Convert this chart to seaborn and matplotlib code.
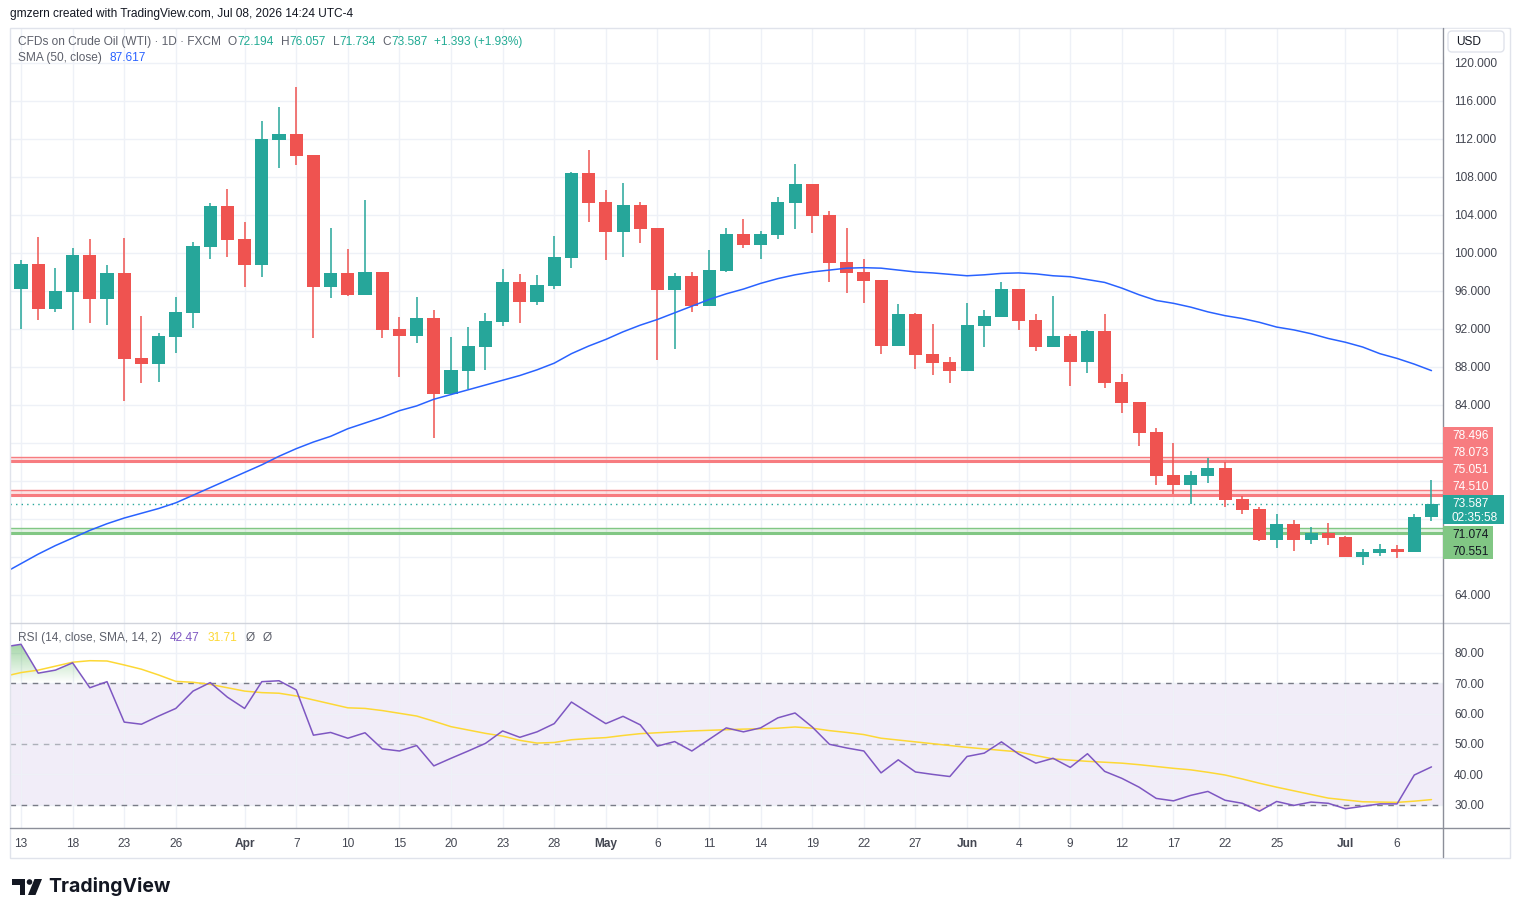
import numpy as np
import pandas as pd
import seaborn as sns
import matplotlib.pyplot as plt
from matplotlib.patches import Rectangle, FancyBboxPatch, Polygon, Circle, PathPatch
from matplotlib.path import Path
from matplotlib.colors import to_rgb
from matplotlib.ticker import FuncFormatter

sns.set_theme(style='white')
plt.rcParams['font.family'] = ['Liberation Sans', 'DejaVu Sans']

W, H = 1519, 917

# --- daily bars, Mar 13 .. Jul 08 (83 sessions) ---
opens = [96.2, 98.84, 94.1, 95.9, 99.8, 95.16, 97.89, 88.95, 88.35, 91.2,
         93.72, 100.67, 104.95, 101.47, 98.77, 111.9, 112.53, 110.3, 96.42, 97.9,
         95.58, 98.0, 92.0, 91.26, 93.16, 85.19, 87.58, 90.1, 92.74, 96.95,
         94.84, 96.5, 99.47, 108.42, 105.37, 102.2, 105.05, 102.63, 96.1, 97.58,
         94.42, 98.1, 102.0, 100.84, 101.9, 105.26, 107.26, 104.0, 99.05, 98.0,
         97.16, 90.2, 93.58, 89.37, 88.5, 87.6, 92.3, 93.26, 96.2, 92.95,
         90.1, 91.26, 88.5, 91.79, 86.4, 84.3, 81.16, 76.6, 75.6, 76.5,
         77.37, 74.1, 73.05, 69.8, 71.47, 69.8, 70.5, 70.1, 68.0, 68.4,
         68.84, 68.5, 72.194]
highs = [99.26, 101.68, 98.42, 100.53, 101.47, 98.74, 101.58, 93.37, 91.58, 95.37,
         101.16, 105.26, 106.74, 103.26, 113.9, 115.37, 117.5, 110.3, 102.6, 100.4,
         105.58, 98.0, 93.26, 95.37, 94.0, 91.16, 92.2, 93.68, 98.3, 97.8,
         97.7, 101.8, 108.5, 110.84, 106.63, 107.37, 105.37, 102.63, 97.9, 98.0,
         100.3, 102.63, 103.58, 102.3, 105.9, 109.37, 107.26, 104.42, 102.63, 99.4,
         97.16, 94.63, 93.7, 92.53, 89.05, 94.74, 94.0, 96.95, 96.2, 93.58,
         95.47, 91.47, 91.9, 93.58, 87.26, 84.3, 81.6, 80.0, 77.05, 78.4,
         78.0, 74.4, 73.26, 72.5, 71.9, 71.16, 71.6, 70.2, 68.84, 69.37,
         69.26, 72.5, 76.057]
lows = [92.0, 92.98, 93.79, 91.93, 92.67, 92.46, 84.45, 86.35, 86.45, 89.5,
        92.14, 99.4, 99.6, 96.45, 97.5, 108.9, 109.3, 91.1, 95.26, 95.5,
        95.58, 91.1, 86.98, 90.56, 80.56, 85.19, 85.68, 87.7, 92.3, 92.6,
        94.5, 96.2, 98.42, 103.26, 99.26, 99.58, 101.05, 88.7, 89.9, 93.79,
        94.42, 98.0, 100.5, 99.4, 101.5, 102.5, 102.1, 96.95, 95.8, 94.7,
        89.37, 90.2, 87.8, 87.2, 86.35, 87.6, 90.1, 93.26, 91.9, 89.7,
        90.1, 86.0, 87.37, 85.8, 83.16, 79.7, 75.6, 74.6, 73.6, 75.8,
        73.26, 72.5, 69.7, 68.95, 68.6, 69.4, 69.26, 68.0, 67.16, 68.1,
        67.9, 68.5, 71.734]
closes = [98.84, 94.1, 96.0, 99.79, 95.16, 97.89, 88.88, 88.35, 91.26, 93.79,
          100.74, 104.95, 101.4, 98.77, 112.0, 112.53, 110.2, 96.42, 97.9, 95.58,
          98.0, 91.93, 91.26, 93.16, 85.19, 87.65, 90.2, 92.84, 96.95, 94.84,
          96.6, 99.58, 108.42, 105.26, 102.2, 105.05, 102.53, 96.1, 97.58, 94.42,
          98.2, 102.0, 100.84, 102.0, 105.37, 107.26, 103.9, 98.95, 97.9, 97.05,
          90.2, 93.58, 89.26, 88.45, 87.6, 92.42, 93.37, 96.2, 92.84, 90.1,
          91.26, 88.5, 91.79, 86.3, 84.2, 81.05, 76.5, 75.6, 76.6, 77.37,
          74.0, 72.95, 69.8, 71.47, 69.8, 70.5, 70.0, 68.0, 68.5, 68.84,
          68.5, 72.2, 73.587]

# indicators start one bar earlier (the bar just left of the view)
sma50 = [66.3, 67.3, 68.3, 69.2, 70.0, 70.8, 71.5, 72.1, 72.6, 73.1, 73.7,
         74.5, 75.3, 76.1, 76.9, 77.7, 78.6, 79.4, 80.1, 80.7, 81.5,
         82.1, 82.7, 83.4, 83.9, 84.6, 85.1, 85.6, 86.1, 86.6, 87.1,
         87.7, 88.4, 89.4, 90.2, 90.9, 91.7, 92.4, 93.0, 93.7, 94.4,
         95.1, 95.7, 96.2, 96.8, 97.3, 97.7, 98.0, 98.2, 98.4, 98.45,
         98.4, 98.2, 98.0, 97.9, 97.75, 97.6, 97.7, 97.85, 97.9, 97.8,
         97.6, 97.5, 97.2, 96.9, 96.3, 95.6, 95.0, 94.7, 94.3, 93.8,
         93.4, 93.1, 92.7, 92.2, 91.9, 91.5, 91.0, 90.6, 90.1, 89.4,
         88.9, 88.3, 87.617]
rsi = [81.9, 82.8, 73.3, 74.3, 76.7, 68.5, 70.5, 57.2, 56.5, 59.2, 61.7,
       67.4, 70.2, 65.4, 61.7, 70.5, 70.8, 67.8, 52.9, 53.8, 51.9,
       53.7, 48.4, 47.7, 49.5, 42.8, 45.3, 47.7, 50.2, 54.3, 52.2,
       54.0, 56.7, 63.8, 60.2, 56.7, 59.1, 56.3, 49.3, 50.8, 47.7,
       51.5, 55.3, 54.0, 55.3, 58.6, 60.2, 55.6, 49.9, 48.7, 47.7,
       40.5, 44.8, 40.8, 40.0, 39.3, 45.9, 47.0, 50.7, 46.7, 43.7,
       45.3, 42.3, 46.8, 41.0, 38.7, 35.8, 32.1, 31.3, 33.1, 34.4,
       31.5, 30.5, 27.9, 31.1, 29.8, 30.9, 30.5, 28.7, 29.5, 30.3,
       30.3, 39.8, 42.47]
rsi_ma = [72.2, 73.5, 74.3, 75.6, 76.9, 77.4, 77.3, 76.0, 74.6, 72.7, 70.6,
          70.3, 69.6, 68.5, 67.4, 66.9, 66.7, 65.8, 64.5, 63.2, 61.9,
          61.7, 61.0, 60.1, 59.2, 57.5, 55.7, 54.6, 53.5, 52.6, 51.2,
          50.3, 50.5, 51.4, 51.8, 52.1, 52.8, 53.4, 53.7, 54.0, 54.3,
          54.5, 54.7, 54.9, 55.0, 55.2, 55.6, 55.2, 54.4, 53.8, 53.1,
          51.9, 51.3, 50.7, 50.1, 49.5, 48.9, 48.4, 47.9, 47.4, 46.2,
          45.1, 44.7, 44.3, 44.0, 43.7, 43.2, 42.6, 42.0, 41.5, 40.7,
          39.8, 38.5, 37.1, 35.8, 34.6, 33.4, 32.2, 31.6, 31.0, 30.9,
          30.8, 31.2, 31.71]

tick_pos = [0, 3, 6, 9, 13, 16, 19, 22, 25, 28, 31, 34, 37, 40, 43, 46, 49,
            52, 55, 58, 61, 64, 67, 70, 73, 77, 80]
tick_lbl = ['13', '18', '23', '26', 'Apr', '7', '10', '15', '20', '23', '28',
            'May', '6', '11', '14', '19', '22', '27', 'Jun', '4', '9', '12',
            '17', '22', '25', 'Jul', '6']
months = {'Apr', 'May', 'Jun', 'Jul'}

red_levels = [(78.496, 78.073), (75.051, 74.510)]
green_levels = [(71.074, 70.551)]
last_price = 73.587
countdown = '02:35:58'

UP, DOWN = '#26A69A', '#EF5350'
LVL_RED, LVL_GREEN = '#F77C80', '#81C784'
GRID = '#EEF1F7'
GRAY = '#5D606B'
FS = 8.6

fig = plt.figure(figsize=(W / 100, H / 100), dpi=100)
fig.patch.set_facecolor('white')


def rect(x0, y0, x1, y1):
    return [x0 / W, 1 - y1 / H, (x1 - x0) / W, (y1 - y0) / H]


ax_p = fig.add_axes(rect(10, 28, 1443, 623))
ax_r = fig.add_axes(rect(10, 623, 1443, 828))

# ---------------- price pane ----------------
df = pd.DataFrame({'o': opens, 'h': highs, 'l': lows, 'c': closes})
df['x'] = np.arange(len(df))
cols = np.where(df.c >= df.o, UP, DOWN)
ax_p.vlines(df.x, df.l, df.h, colors=cols, linewidth=1.1, zorder=3)
ax_p.bar(df.x, (df.c - df.o).abs().clip(lower=0.1), bottom=df[['o', 'c']].min(axis=1),
         width=0.76, color=cols, linewidth=0, zorder=4)

xi = np.arange(-1, len(df))
sns.lineplot(x=xi, y=sma50, ax=ax_p, color='#2962FF', linewidth=1.1, zorder=5)

for a, b in red_levels:
    ax_p.axhspan(b, a, color=LVL_RED, alpha=0.22, lw=0, zorder=2)
    ax_p.axhline(a, color=LVL_RED, lw=1, zorder=2)
    ax_p.axhline(b, color=LVL_RED, lw=2.2, zorder=2)
for a, b in green_levels:
    ax_p.axhspan(b, a, color=LVL_GREEN, alpha=0.22, lw=0, zorder=2)
    ax_p.axhline(a, color=LVL_GREEN, lw=1, zorder=2)
    ax_p.axhline(b, color=LVL_GREEN, lw=2.2, zorder=2)
ax_p.axhline(last_price, color=UP, lw=1, ls=(0, (1, 3)), zorder=2)

ax_p.set_xlim(-0.64, 82.67)
ax_p.set_ylim(61.05, 123.68)
ax_p.set_yticks(np.arange(64, 121, 4))
ax_p.set_xticks(tick_pos)
ax_p.yaxis.tick_right()
ax_p.tick_params(axis='y', length=0, pad=8, labelsize=FS, labelcolor='#434651')
ax_p.tick_params(axis='x', length=0, labelbottom=False)
ax_p.grid(True, color=GRID, lw=1)
ax_p.set_axisbelow(True)
ax_p.set_xlabel('')
ax_p.set_ylabel('')
for s in ax_p.spines.values():
    s.set_visible(False)


# ---------------- RSI pane ----------------
def gradient_fill(ax, xs, ys, level, far, color, amax):
    ys = np.asarray(ys)
    where = ys >= level if far > level else ys <= level
    coll = ax.fill_between(xs, level, ys, where=where, interpolate=True,
                           facecolor='none', edgecolor='none')
    paths = coll.get_paths()
    if not paths:
        return
    patch = PathPatch(Path.make_compound_path(*paths), transform=ax.transData,
                      facecolor='none', edgecolor='none')
    ax.add_patch(patch)
    rgba = np.zeros((64, 1, 4))
    rgba[..., :3] = to_rgb(color)
    alphas = np.linspace(0, amax, 64)
    lo, hi = min(level, far), max(level, far)
    rgba[:, 0, 3] = alphas if far > level else alphas[::-1]
    im = ax.imshow(rgba, extent=[xs.min(), xs.max(), lo, hi], origin='lower',
                   aspect='auto', zorder=1, interpolation='bilinear')
    im.set_clip_path(patch)


ax_r.axhspan(30, 70, color='#7E57C2', alpha=0.1, lw=0, zorder=0.5)
gradient_fill(ax_r, xi, rsi, 70, 84, '#4CAF50', 0.55)
gradient_fill(ax_r, xi, rsi, 30, 26, '#FF5252', 0.5)
ax_r.axhline(70, color='#787B86', lw=1, ls=(0, (4, 4)), zorder=2)
ax_r.axhline(50, color='#787B86', alpha=0.55, lw=1, ls=(0, (4, 4)), zorder=2)
ax_r.axhline(30, color='#787B86', lw=1, ls=(0, (4, 4)), zorder=2)
sns.lineplot(x=xi, y=rsi_ma, ax=ax_r, color='#FDD835', linewidth=1.1, zorder=3)
sns.lineplot(x=xi, y=rsi, ax=ax_r, color='#7E57C2', linewidth=1.1, zorder=4)

ax_r.set_xlim(-0.64, 82.67)
ax_r.set_ylim(22.37, 89.8)
ax_r.set_yticks(np.arange(30, 81, 10))
ax_r.yaxis.tick_right()
ax_r.yaxis.set_major_formatter(FuncFormatter(lambda v, p: f'{v:.2f}'))
ax_r.tick_params(axis='y', length=0, pad=8, labelsize=FS, labelcolor='#434651')
ax_r.set_xticks(tick_pos)
ax_r.set_xticklabels(tick_lbl)
ax_r.tick_params(axis='x', length=0, pad=7, labelsize=FS, labelcolor='#434651')
for t in ax_r.get_xticklabels():
    if t.get_text() in months:
        t.set_fontweight('bold')
ax_r.grid(True, color=GRID, lw=1)
ax_r.set_axisbelow(True)
ax_r.set_xlabel('')
ax_r.set_ylabel('')
for s in ax_r.spines.values():
    s.set_visible(False)

# ---------------- overlay: frame, labels, header ----------------
ax_o = fig.add_axes([0, 0, 1, 1])
ax_o.set_xlim(0, W)
ax_o.set_ylim(H, 0)
ax_o.axis('off')
ax_o.patch.set_alpha(0)

ax_o.add_patch(Rectangle((9.5, 27.5), 1500, 830, fill=False, ec='#E0E3EB', lw=1))
ax_o.plot([10, 1509], [623, 623], color='#D1D4DC', lw=1)
ax_o.plot([10, 1509], [828, 828], color='#8C8F99', lw=1)
ax_o.plot([1443, 1443], [28, 857], color='#8C8F99', lw=1)

# USD box
ax_o.add_patch(Rectangle((1445, 28.5), 63, 27, color='white', zorder=5))
ax_o.add_patch(FancyBboxPatch((1448, 31), 56, 21, boxstyle='round,pad=0,rounding_size=4',
                              fc='white', ec='#E0E3EB', lw=1, zorder=6))
ax_o.text(1456, 42, 'USD', fontsize=FS, color='#131722', va='center', zorder=7)

# stacked price labels on the scale
disp = ax_p.transData.transform((0, last_price))
y_last = H - disp[1]
teal_top, teal_bot = y_last - 8.5, y_last + 20.5
step = 17.1
reds = sorted([v for pair in red_levels for v in pair], reverse=True)
red_top = teal_top - step * len(reds)
ax_o.add_patch(Rectangle((1443, red_top), 50, teal_top - red_top, color=LVL_RED, lw=0, zorder=5))
for i, v in enumerate(reds):
    ax_o.text(1452, red_top + step * (i + 0.5), f'{v:.3f}', color='white', fontsize=FS,
              va='center', zorder=6)
ax_o.add_patch(Rectangle((1443, teal_top), 61, teal_bot - teal_top, color=UP, lw=0, zorder=5))
ax_o.text(1452, y_last, f'{last_price:.3f}', color='white', fontsize=FS, va='center', zorder=6)
ax_o.text(1452, y_last + 13.7, countdown, color='white', fontsize=FS, va='center', zorder=6)
greens = sorted([v for pair in green_levels for v in pair], reverse=True)
g_top = teal_bot + 1.5
g_bot = g_top + step * len(greens) - 1
ax_o.add_patch(Rectangle((1443, g_top), 50, g_bot - g_top, color=LVL_GREEN, lw=0, zorder=5))
for i, v in enumerate(greens):
    ax_o.text(1452, g_top + 9.5 + step * i, f'{v:.3f}', color='#131722', fontsize=FS,
              va='center', zorder=6)

# price scale labels hidden behind the stacked boxes are left out
inv = ax_p.transData.inverted()
p_hi = inv.transform((0, H - (red_top - 7)))[1]
p_lo = inv.transform((0, H - (g_bot + 7)))[1]
ax_p.yaxis.set_major_formatter(
    FuncFormatter(lambda v, p: '' if p_lo <= v <= p_hi else f'{v:.3f}'))


def chain(x, y, parts, size=FS):
    r = fig.canvas.get_renderer()
    for s, c, gap in parts:
        t = ax_o.text(x, y, s, color=c, fontsize=size, va='center', ha='left', zorder=8)
        x += t.get_window_extent(renderer=r).width + gap


TEAL_T = '#22AB94'
chain(10, 14, [('gmzern created with TradingView.com, Jul 08, 2026 14:24 UTC-4', '#131722', 0)])
chain(18, 42, [('CFDs on Crude Oil (WTI) · 1D · FXCM', GRAY, 7),
               ('O', GRAY, 0), ('72.194', TEAL_T, 7),
               ('H', GRAY, 0), ('76.057', TEAL_T, 7),
               ('L', GRAY, 0), ('71.734', TEAL_T, 7),
               ('C', GRAY, 0), ('73.587', TEAL_T, 7),
               ('+1.393 (+1.93%)', TEAL_T, 0)])
chain(18, 58, [('SMA (50, close)', GRAY, 8), ('87.617', '#2962FF', 0)])
chain(18, 638, [('RSI (14, close, SMA, 14, 2)', GRAY, 8), ('42.47', '#7E57C2', 8),
                ('31.71', '#FDD835', 8), ('Ø', GRAY, 8), ('Ø', GRAY, 0)])

# TradingView logo
ax_o.add_patch(Polygon([(12, 879), (25, 879), (25, 895), (19.5, 895), (19.5, 884.5), (12, 884.5)],
                       closed=True, color='#131722', lw=0))
ax_o.add_patch(Circle((29.5, 882), 2.8, color='#131722', lw=0))
ax_o.add_patch(Polygon([(34.5, 879), (42, 879), (35.5, 895), (28, 895)], closed=True,
                       color='#131722', lw=0))
ax_o.text(48, 887, 'TradingView', fontsize=14, fontweight='bold', color='#131722',
          va='center', family=['Inter', 'Roboto', 'DejaVu Sans'])

fig.savefig('out.png', dpi=100)
